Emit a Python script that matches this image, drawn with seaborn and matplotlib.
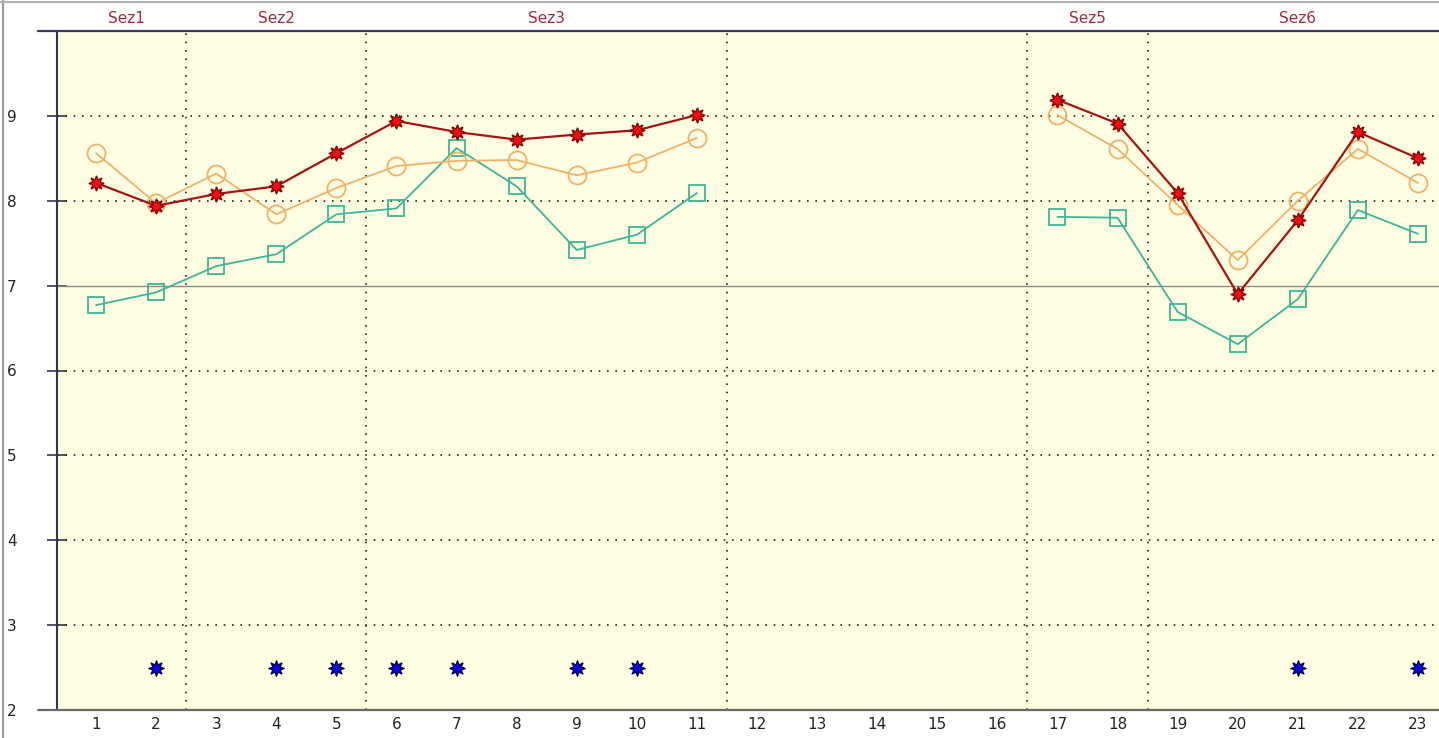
import numpy as np
import pandas as pd
import matplotlib
matplotlib.use("Agg")
import matplotlib.pyplot as plt
from matplotlib.lines import Line2D
import seaborn as sns

nan = np.nan
x_pos = list(range(1, 24))
x_labels = [str(i) for i in x_pos]

red_vals = [8.21, 7.94, 8.08, 8.17, 8.56, 8.94, 8.81, 8.72, 8.78, 8.83, 9.01,
            nan, nan, nan, nan, nan,
            9.19, 8.91, 8.09, 6.90, 7.77, 8.81, 8.50]
orange_vals = [8.56, 7.97, 8.32, 7.84, 8.15, 8.41, 8.47, 8.48, 8.30, 8.45, 8.74,
               nan, nan, nan, nan, nan,
               9.01, 8.61, 7.95, 7.30, 8.00, 8.61, 8.21]
teal_vals = [6.77, 6.92, 7.23, 7.37, 7.84, 7.91, 8.62, 8.17, 7.42, 7.60, 8.09,
             nan, nan, nan, nan, nan,
             7.81, 7.80, 6.69, 6.31, 6.84, 7.89, 7.61]
blue_x = [2, 4, 5, 6, 7, 9, 10, 21, 23]
blue_vals = [2.5] * len(blue_x)

section_names = ["Sez1", "Sez2", "Sez3", "Sez5", "Sez6"]
section_centers = [1.5, 4.0, 8.5, 17.5, 21.0]
section_bounds = [2.5, 5.5, 11.5, 16.5, 18.5]
y_ticks = [2, 3, 4, 5, 6, 7, 8, 9]


def to_frame(vals):
    df = pd.DataFrame({"x": x_pos, "y": vals})
    df["seg"] = df["y"].isna().cumsum()
    return df.dropna()


sns.set_theme(style="white")
plt.rcParams["font.family"] = ["DejaVu Sans"]

fig = plt.figure(figsize=(14.39, 7.38), dpi=100)
fig.patch.set_facecolor("white")
ax = fig.add_axes([57 / 1439, 28 / 738, 1 - 57 / 1439, (710 - 31) / 738])
ax.set_facecolor("#FFFDE2")

ax.set_xlim(0.35, 23.35)
ax.set_ylim(2, 10)

# grid
for yv in [3, 4, 5, 6, 8, 9]:
    ax.axhline(yv, color="#222222", lw=1.2, ls=(0, (1, 4)), zorder=1)
ax.axhline(7, color="#8a8a80", lw=1.0, zorder=1)
for xv in section_bounds:
    ax.axvline(xv, color="#222222", lw=1.2, ls=(0, (1, 4)), zorder=1)

teal = "#3DB596"
orange = "#EDB26A"
star = (8, 1, 0)

sns.lineplot(data=to_frame(teal_vals), x="x", y="y", units="seg", estimator=None,
             color=teal, lw=1.3, marker="s", markersize=12, markerfacecolor="none",
             markeredgecolor=teal, markeredgewidth=1.3, ax=ax, zorder=3)
sns.lineplot(data=to_frame(orange_vals), x="x", y="y", units="seg", estimator=None,
             color=orange, lw=1.3, marker="o", markersize=13, markerfacecolor="none",
             markeredgecolor=orange, markeredgewidth=1.3, ax=ax, zorder=4)
sns.lineplot(data=to_frame(red_vals), x="x", y="y", units="seg", estimator=None,
             color="#A31515", lw=1.6, marker=star, markersize=11, markerfacecolor="#F01010",
             markeredgecolor="#8B0000", markeredgewidth=1.0, ax=ax, zorder=5)
sns.scatterplot(x=blue_x, y=blue_vals, marker=star, s=120, color="#0A0ADD",
                edgecolor="#000066", linewidth=1.0, ax=ax, zorder=6)

ax.set_xlabel("")
ax.set_ylabel("")
ax.set_xticks(x_pos)
ax.set_xticklabels(x_labels, fontsize=11, color="#222222")
ax.set_yticks(y_ticks)
ax.set_yticklabels([str(v) for v in y_ticks], fontsize=11, color="#222222")
ax.tick_params(axis="x", bottom=False, length=0, pad=5)
ax.tick_params(axis="y", left=True, direction="inout", length=14, width=1.2,
               color="#333355", pad=22)

for s in ["top", "right", "bottom"]:
    ax.spines[s].set_visible(False)
ax.spines["left"].set_color("#333355")
ax.spines["left"].set_linewidth(1.5)

# section labels
for name, cx in zip(section_names, section_centers):
    ax.text(cx, 1.008, name, transform=ax.get_xaxis_transform(), ha="center",
            va="bottom", fontsize=11, color="#9B2D3A")

# frame lines
fig.add_artist(Line2D([38 / 1439, 1], [1 - 31 / 738, 1 - 31 / 738], color="#3A3A5A", lw=1.6))
fig.add_artist(Line2D([38 / 1439, 1], [1 - 710 / 738, 1 - 710 / 738], color="#6a6a6a", lw=1.6))
fig.add_artist(Line2D([2.5 / 1439, 2.5 / 1439], [0, 1], color="#9a9a9a", lw=1.5))
fig.add_artist(Line2D([0, 1], [1 - 1.5 / 738, 1 - 1.5 / 738], color="#b0b0b0", lw=1.5))

fig.savefig("out.png", dpi=100)
